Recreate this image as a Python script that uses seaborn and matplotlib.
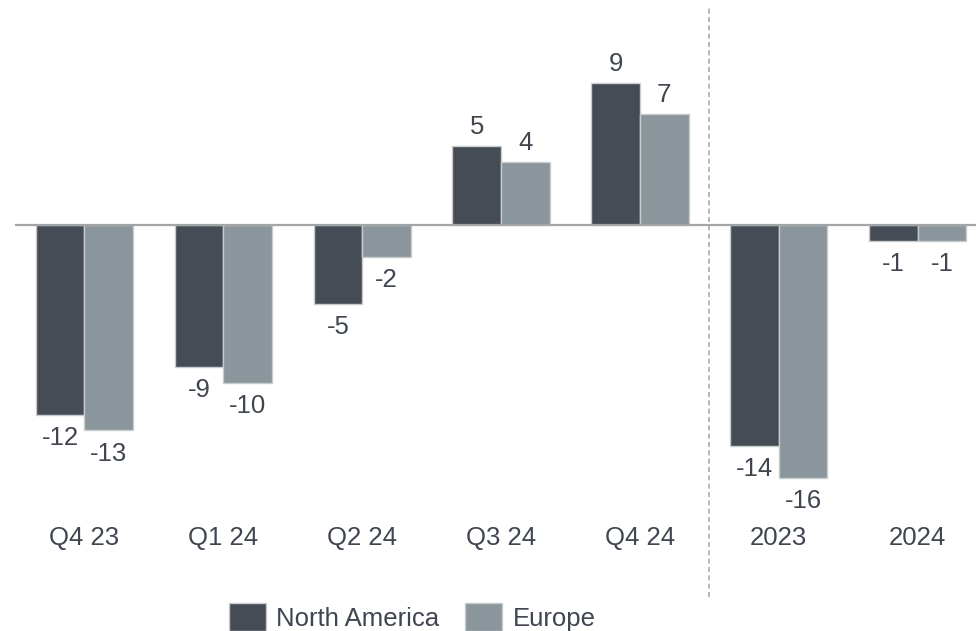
import matplotlib
matplotlib.use("Agg")
import matplotlib.pyplot as plt
import seaborn as sns
import pandas as pd
from matplotlib.patches import Patch

periods = ["Q4 23", "Q1 24", "Q2 24", "Q3 24", "Q4 24", "2023", "2024"]
north_america = [-12, -9, -5, 5, 9, -14, -1]
europe = [-13, -10, -2, 4, 7, -16, -1]
series = ["North America", "Europe"]
colors = ["#464c55", "#8a959c"]
text_color = "#3f4650"
fs = 18.5

df = pd.DataFrame({
    "period": periods * 2,
    "value": north_america + europe,
    "region": [series[0]] * len(periods) + [series[1]] * len(periods),
})

sns.set_theme(style="white")
plt.rcParams["font.family"] = ["Liberation Sans", "DejaVu Sans"]

fig = plt.figure(figsize=(9.76, 6.31), dpi=100)
ax = fig.add_axes([15 / 976, 1 - 515 / 631, 1 - 15 / 976, 515 / 631])

sns.barplot(data=df, x="period", y="value", hue="region", order=periods,
            hue_order=series, palette=colors, width=0.7, saturation=1,
            edgecolor="#c9cccf", linewidth=1, legend=False, ax=ax)

# value labels above positive bars, below negative ones
for cont in ax.containers:
    for bar in cont:
        h = bar.get_height()
        x = bar.get_x() + bar.get_width() / 2
        va = "bottom" if h >= 0 else "top"
        ax.text(x, h + (0.45 if h >= 0 else -0.7), f"{h:.0f}", ha="center", va=va,
                fontsize=fs, color=text_color)

ax.axhline(0, color="#a3a6a8", linewidth=1.6, zorder=3)
ax.axvline(4.5, ymin=-0.159, ymax=0.986, color="#a9acae", linewidth=1.2,
           linestyle=(0, (3, 2)), clip_on=False, zorder=0)

ax.set_xlim(-0.5, 6.42)
ax.set_ylim(-18.35, 14.24)
ax.set_xlabel("")
ax.set_ylabel("")
ax.set_yticks([])
ax.tick_params(axis="x", length=0, pad=8, labelsize=fs, labelcolor=text_color)
for s in ax.spines.values():
    s.set_visible(False)
ax.patch.set_alpha(0)

handles = [Patch(facecolor=c, edgecolor="#c9cccf", linewidth=1) for c in colors]
fig.legend(handles, series, loc="center", bbox_to_anchor=(412 / 976, 1 - 617 / 631),
           ncol=2, frameon=False, fontsize=fs, labelcolor=text_color,
           handlelength=1.45, handleheight=1.3, handletextpad=0.4, columnspacing=1.0)

fig.savefig("out.png", dpi=100)
